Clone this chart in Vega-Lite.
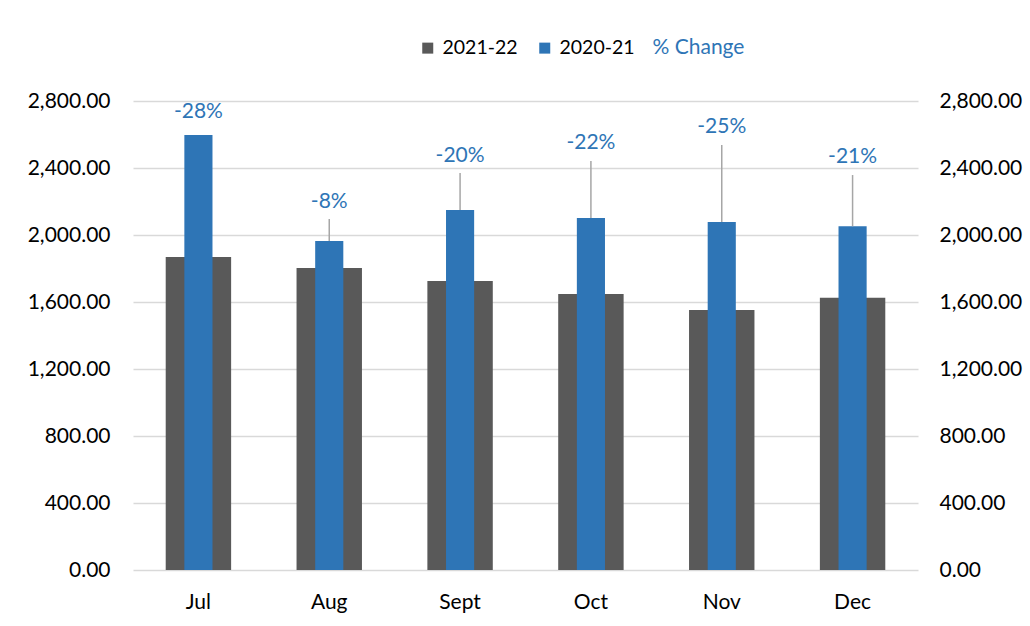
{
  "$schema": "https://vega.github.io/schema/vega-lite/v6.json",
  "width": 785,
  "height": 469,
  "autosize": {"type": "none"},
  "padding": {"left": 133, "top": 101, "right": 112, "bottom": 56},
  "background": "white",
  "config": {
    "font": "Lato",
    "view": {"stroke": null},
    "axis": {"labelFont": "Lato", "labelFontSize": 21, "labelColor": "#000000"}
  },
  "data": {
    "values": [
      {"month": "Jul", "y2122": 1869, "y2021": 2597, "pct": "-28%", "labelY": 2734, "lineTop": null},
      {"month": "Aug", "y2122": 1803, "y2021": 1964, "pct": "-8%", "labelY": 2197, "lineTop": 2096},
      {"month": "Sept", "y2122": 1725, "y2021": 2149, "pct": "-20%", "labelY": 2472, "lineTop": 2370},
      {"month": "Oct", "y2122": 1648, "y2021": 2101, "pct": "-22%", "labelY": 2549, "lineTop": 2442},
      {"month": "Nov", "y2122": 1552, "y2021": 2078, "pct": "-25%", "labelY": 2645, "lineTop": 2537},
      {"month": "Dec", "y2122": 1625, "y2021": 2052, "pct": "-21%", "labelY": 2466, "lineTop": 2358}
    ]
  },
  "encoding": {
    "x": {
      "field": "month", "type": "nominal", "sort": null,
      "scale": {"paddingInner": 0, "paddingOuter": 0},
      "axis": {"title": null, "labelAngle": 0, "ticks": false, "domain": false, "labelPadding": 21}
    }
  },
  "layer": [
    {
      "mark": {"type": "bar", "width": {"band": 0.5}},
      "encoding": {
        "y": {
          "field": "y2122", "type": "quantitative",
          "scale": {"domain": [0, 2800], "nice": false},
          "axis": {"title": null, "orient": "left", "format": ",.2f", "values": [0, 400, 800, 1200, 1600, 2000, 2400, 2800], "domain": false, "ticks": false, "labelPadding": 23, "grid": true, "gridColor": "#D9D9D9", "gridWidth": 1.5}
        },
        "color": {
          "datum": "2021-22", "type": "nominal",
          "scale": {"domain": ["2021-22", "2020-21", "% Change"], "range": ["#595959", "#2E75B6", "#2E75B6"]},
          "legend": {
            "title": null, "orient": "none", "legendX": 285, "legendY": -63,
            "direction": "horizontal", "symbolType": "square", "symbolSize": 121,
            "symbolStrokeWidth": 0, "labelFontSize": 19.5, "labelFont": "Lato", "labelColor": "#000000",
            "labelOffset": 5, "columnPadding": 17,
            "encode": {
              "symbols": {"update": {"opacity": {"signal": "datum.value === '% Change' ? 0 : 1"}}},
              "labels": {"update": {
                "fill": {"signal": "datum.value === '% Change' ? '#2E75B6' : '#000000'"},
                "dx": {"signal": "datum.value === '% Change' ? -30 : 0"},
                "fontSize": {"signal": "datum.value === '% Change' ? 21 : 19.5"}
              }}
            }
          }
        }
      }
    },
    {
      "mark": {"type": "bar", "width": {"band": 0.215}},
      "encoding": {
        "y": {
          "field": "y2021", "type": "quantitative",
          "axis": {"title": null, "orient": "right", "format": ",.2f", "values": [0, 400, 800, 1200, 1600, 2000, 2400, 2800], "domain": false, "ticks": false, "labelPadding": 21, "grid": false}
        },
        "color": {"datum": "2020-21", "type": "nominal"}
      }
    },
    {
      "transform": [{"filter": "datum.lineTop != null"}],
      "mark": {"type": "rule", "color": "#A6A6A6", "strokeWidth": 1.5},
      "encoding": {
        "y": {"field": "lineTop", "type": "quantitative", "axis": null},
        "y2": {"field": "y2021"}
      }
    },
    {
      "mark": {"type": "text", "fontSize": 21, "font": "Lato", "baseline": "middle"},
      "encoding": {
        "y": {"field": "labelY", "type": "quantitative", "axis": null},
        "text": {"field": "pct"},
        "color": {"datum": "% Change", "type": "nominal"}
      }
    }
  ],
  "resolve": {"axis": {"y": "independent"}}
}
